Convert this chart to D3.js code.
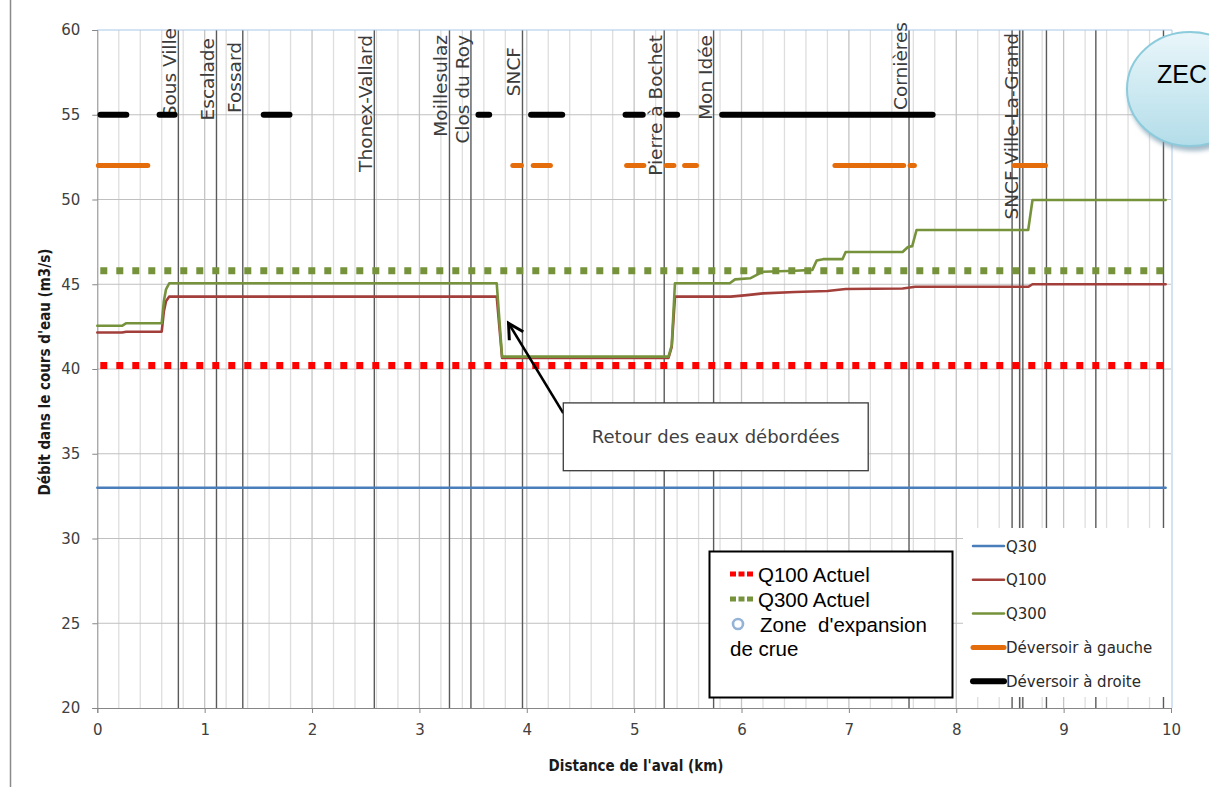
<!DOCTYPE html>
<html>
<head>
<meta charset="utf-8">
<script src="https://cdn.jsdelivr.net/npm/d3@7"></script>
<style>
  html, body { margin: 0; padding: 0; background: #fff; }
  svg { display: block; }
</style>
</head>
<body>
<svg id="chart" width="1209" height="787"></svg>
<script>
// ---- Data: distance from downstream end (km) and discharge (m3/s) ----
const q30Km  = [0, 9.95];
const q30Val = [33, 33];

const q100Km  = [0, 0.23, 0.27, 0.60, 0.62, 0.64, 0.67, 3.72, 3.77, 5.32, 5.35, 5.38, 5.90, 5.95, 6.05, 6.20, 6.50, 6.80, 6.97, 7.50, 7.62, 8.67, 8.71, 9.95];
const q100Val = [42.15, 42.15, 42.2, 42.2, 43.4, 44.0, 44.27, 44.27, 40.65, 40.65, 41.3, 44.27, 44.27, 44.3, 44.36, 44.46, 44.54, 44.6, 44.72, 44.75, 44.85, 44.85, 45.0, 45.0];

const q300Km  = [0, 0.23, 0.27, 0.60, 0.62, 0.64, 0.67, 3.72, 3.77, 5.32, 5.35, 5.38, 5.89, 5.94, 6.08, 6.20, 6.50, 6.66, 6.70, 6.76, 6.94, 6.97, 7.50, 7.55, 7.59, 7.63, 8.67, 8.71, 9.95];
const q300Val = [42.55, 42.55, 42.7, 42.7, 44.0, 44.7, 45.06, 45.06, 40.73, 40.73, 41.4, 45.06, 45.06, 45.29, 45.35, 45.74, 45.8, 45.85, 46.4, 46.48, 46.48, 46.9, 46.9, 47.2, 47.25, 48.2, 48.2, 49.97, 49.97];

// Current-state reference discharges
const q100ActuelVal = 40.2;
const q300ActuelVal = 45.8;
const actuelKm = [0, 9.95];

// Overflow weirs (start km, end km), drawn at a conventional level
const deversoirGaucheVal = 52;
const deversoirGaucheSeg = [[0.01, 0.47], [3.87, 3.95], [4.06, 4.22], [4.93, 5.09], [5.30, 5.37], [5.47, 5.58], [6.87, 7.51], [7.57, 7.61], [8.54, 8.83]];
const deversoirDroiteVal = 55;
const deversoirDroiteSeg = [[0.03, 0.27], [0.58, 0.72], [1.55, 1.79], [3.55, 3.65], [4.04, 4.33], [4.92, 5.08], [5.30, 5.40], [5.82, 7.78]];

// Structures along the river
const ouvrageNames = ["Sous Ville", "Escalade", "Fossard", "Thonex-Vallard", "Moillesulaz", "Clos du Roy", "SNCF", "Pierre à Bochet", "Mon Idée", "Cornières", "SNCF Ville-La-Grand"];
const ouvrageKm    = [0.755, 1.11, 1.355, 2.58, 3.28, 3.48, 3.96, 5.28, 5.74, 7.56, 8.59];
const autresOuvragesKm = [8.52, 8.62, 8.84, 9.30, 9.93];

// Axes
const xTicks = [0, 1, 2, 3, 4, 5, 6, 7, 8, 9, 10];
const yTicks = [20, 25, 30, 35, 40, 45, 50, 55, 60];
const minorGridKm = d3.range(1, 50).map(i => i * 0.2).filter(v => Math.abs(v - Math.round(v)) > 1e-6);

// Legend labels
const legendSeries = ["Q30", "Q100", "Q300", "Déversoir à gauche", "Déversoir à droite"];
const legendActuel = ["Q100 Actuel", "Q300 Actuel"];

// ---- Layout ----
const svg = d3.select("#chart");
const plot = { left: 97.3, right: 1171, top: 30, bottom: 708 };
const x = d3.scaleLinear().domain([0, 10]).range([plot.left, plot.right]);
const y = d3.scaleLinear().domain([20, 60]).range([plot.bottom, plot.top]);

const FONT = "'DejaVu Sans', sans-serif";
const FONT_TITLE = "'Liberation Sans Narrow', 'DejaVu Sans Condensed', 'Arial Narrow', sans-serif";

const colors = {
  q30: "#4a7ebb", q100: "#a23f3b", q300: "#76933c",
  gauche: "#e46c0a", droite: "#000000",
  q100a: "#ff0000", q300a: "#76933c"
};

// Outer frame (left edge)
svg.append("line").attr("x1", 10.5).attr("x2", 10.5).attr("y1", 0).attr("y2", 787)
  .attr("stroke", "#8a8a8a").attr("stroke-width", 1.5);

// Grid
const grid = svg.append("g");
grid.selectAll("line.minor").data(minorGridKm).join("line")
  .attr("x1", d => x(d)).attr("x2", d => x(d))
  .attr("y1", plot.top).attr("y2", plot.bottom)
  .attr("stroke", "#dedede").attr("stroke-width", 1.3);
grid.selectAll("line.major").data(xTicks.slice(1, -1)).join("line")
  .attr("x1", d => x(d)).attr("x2", d => x(d))
  .attr("y1", plot.top).attr("y2", plot.bottom)
  .attr("stroke", "#c4c4c4").attr("stroke-width", 1.3);
grid.selectAll("line.h").data(yTicks.slice(1, -1)).join("line")
  .attr("x1", plot.left).attr("x2", plot.right)
  .attr("y1", d => y(d)).attr("y2", d => y(d))
  .attr("stroke", "#c0c0c0").attr("stroke-width", 1);

// Structure lines
grid.selectAll("line.ouv").data(ouvrageKm.concat(autresOuvragesKm)).join("line")
  .attr("x1", d => x(d)).attr("x2", d => x(d))
  .attr("y1", plot.top).attr("y2", plot.bottom)
  .attr("stroke", "#5a5a5a").attr("stroke-width", 1.4);

// Plot border (top / right)
svg.append("path")
  .attr("d", `M${plot.left},${plot.top}H${plot.right + 1}V${plot.bottom}`)
  .attr("fill", "none").attr("stroke", "#a9c8e8").attr("stroke-width", 1);

// Axes
const xAxis = d3.axisBottom(x).tickValues(xTicks).tickSize(5).tickFormat(d3.format("d"));
const yAxis = d3.axisLeft(y).tickValues(yTicks).tickSize(5).tickFormat(d3.format("d"));
const gx = svg.append("g").attr("transform", `translate(0,${plot.bottom})`).call(xAxis);
const gy = svg.append("g").attr("transform", `translate(${plot.left},0)`).call(yAxis);
[gx, gy].forEach(g => {
  g.select(".domain").attr("stroke", "#868686");
  g.selectAll(".tick line").attr("stroke", "#868686");
  g.selectAll(".tick text").attr("font-family", FONT).attr("font-size", 15).attr("fill", "#404040");
});
gx.selectAll(".tick text").attr("dy", "1.25em");
gy.selectAll(".tick text").attr("x", -17);

// Axis titles
svg.append("text").attr("transform", "translate(50,372) rotate(-90)")
  .attr("text-anchor", "middle").attr("font-family", FONT_TITLE).attr("font-weight", "bold")
  .attr("font-size", 15).attr("fill", "#1a1a1a").text("Débit dans le cours d'eau (m3/s)");
svg.append("text").attr("x", 636).attr("y", 771)
  .attr("text-anchor", "middle").attr("font-family", FONT_TITLE).attr("font-weight", "bold")
  .attr("font-size", 15).attr("fill", "#1a1a1a").text("Distance de l'aval (km)");

// Structure labels
const labelTop = { "Sous Ville": 28, "Escalade": 38, "Fossard": 42, "Thonex-Vallard": 35, "Moillesulaz": 35,
  "Clos du Roy": 35, "SNCF": 47, "Pierre à Bochet": 35, "Mon Idée": 35, "Cornières": 22, "SNCF Ville-La-Grand": 33 };
svg.append("g").selectAll("text").data(ouvrageNames).join("text")
  .attr("transform", (d, i) => `translate(${x(ouvrageKm[i]) - 2},${labelTop[d]}) rotate(-90)`)
  .attr("text-anchor", "end")
  .attr("font-family", FONT).attr("font-size", 18.5).attr("fill", "#3c3c3c")
  .text(d => d);

// Series lines
const line = d3.line().x(d => x(d[0])).y(d => y(d[1]));
const pairs = (ks, vs) => ks.map((k, i) => [k, vs[i]]);

const series = svg.append("g").attr("fill", "none").attr("stroke-linejoin", "round").attr("stroke-linecap", "round");

// Weirs
series.selectAll("line.g").data(deversoirGaucheSeg).join("line")
  .attr("x1", d => x(d[0])).attr("x2", d => x(d[1]))
  .attr("y1", y(deversoirGaucheVal)).attr("y2", y(deversoirGaucheVal))
  .attr("stroke", colors.gauche).attr("stroke-width", 5);
series.selectAll("line.d").data(deversoirDroiteSeg).join("line")
  .attr("x1", d => x(d[0])).attr("x2", d => x(d[1]))
  .attr("y1", y(deversoirDroiteVal)).attr("y2", y(deversoirDroiteVal))
  .attr("stroke", colors.droite).attr("stroke-width", 6);

// Current-state dotted references
series.append("path").datum(pairs(actuelKm, [q100ActuelVal, q100ActuelVal])).attr("d", line)
  .attr("stroke", colors.q100a).attr("stroke-width", 7).attr("stroke-linecap", "butt").attr("stroke-dasharray", "7 9")
  .attr("transform", "translate(3,0)");
series.append("path").datum(pairs(actuelKm, [q300ActuelVal, q300ActuelVal])).attr("d", line)
  .attr("stroke", colors.q300a).attr("stroke-width", 7).attr("stroke-linecap", "butt").attr("stroke-dasharray", "7 9")
  .attr("transform", "translate(3,0)");

series.append("path").datum(pairs(q30Km, q30Val)).attr("d", line)
  .attr("stroke", colors.q30).attr("stroke-width", 2.5);
series.append("path").datum(pairs(q100Km, q100Val)).attr("d", line)
  .attr("stroke", colors.q100).attr("stroke-width", 2.6);
series.append("path").datum(pairs(q300Km, q300Val)).attr("d", line)
  .attr("stroke", colors.q300).attr("stroke-width", 2.6);

// Annotation: return of overflowing water
const ann = { tipKm: 3.83, tipQ: 42.7, startQ: 37.4, x0: 4.34, x1: 7.18, q0: 38.0, q1: 34.0 };
const annG = svg.append("g");
const ax0 = x(ann.x0), ax1 = x(ann.x1), ay0 = y(ann.q0), ay1 = y(ann.q1);
const tx = x(ann.tipKm), ty = y(ann.tipQ), sx = ax0, sy = y(ann.startQ);
annG.append("line").attr("x1", sx).attr("y1", sy).attr("x2", tx).attr("y2", ty)
  .attr("stroke", "#000").attr("stroke-width", 2.6);
const ang = Math.atan2(ty - sy, tx - sx);
const hl = 17, ha = 0.5;
annG.append("path")
  .attr("d", `M${tx - hl * Math.cos(ang - ha)},${ty - hl * Math.sin(ang - ha)}L${tx},${ty}L${tx - hl * Math.cos(ang + ha)},${ty - hl * Math.sin(ang + ha)}`)
  .attr("fill", "none").attr("stroke", "#000").attr("stroke-width", 3).attr("stroke-linejoin", "miter");
annG.append("rect").attr("x", ax0).attr("y", ay0).attr("width", ax1 - ax0).attr("height", ay1 - ay0)
  .attr("fill", "#fff").attr("stroke", "#3a3a3a").attr("stroke-width", 1.3);
annG.append("text").attr("x", (ax0 + ax1) / 2).attr("y", (ay0 + ay1) / 2 + 6)
  .attr("text-anchor", "middle").attr("font-family", FONT).attr("font-size", 18).attr("fill", "#404040")
  .text("Retour des eaux débordées");

// Series legend (inside plot, bottom right)
const lg = svg.append("g");
lg.append("rect").attr("x", 963).attr("y", 528).attr("width", plot.right - 963).attr("height", 169).attr("fill", "#fff");
const legendStyles = [
  { c: colors.q30, w: 2.5 }, { c: colors.q100, w: 2.5 }, { c: colors.q300, w: 2.5 },
  { c: colors.gauche, w: 5 }, { c: colors.droite, w: 6 }
];
const lgRow = lg.selectAll("g").data(legendSeries).join("g")
  .attr("transform", (d, i) => `translate(0,${546 + i * 33.8})`);
lgRow.append("line").attr("x1", 973).attr("x2", 1004).attr("y1", 0).attr("y2", 0)
  .attr("stroke", (d, i) => legendStyles[i].c).attr("stroke-width", (d, i) => legendStyles[i].w)
  .attr("stroke-linecap", "round");
lgRow.append("text").attr("x", 1006).attr("y", 5.5)
  .attr("font-family", FONT).attr("font-size", 15).attr("fill", "#2a2a2a").text(d => d);

// Boxed legend for current-state references
const bl = svg.append("g");
bl.append("rect").attr("x", 709.5).attr("y", 551.5).attr("width", 243).attr("height", 146)
  .attr("fill", "#fff").attr("stroke", "#000").attr("stroke-width", 2);
const blFont = "'Liberation Sans', Arial, sans-serif";
[colors.q100a, colors.q300a].forEach((c, i) => {
  const yy = 574 + i * 25;
  bl.append("line").attr("x1", 730).attr("x2", 753).attr("y1", yy).attr("y2", yy)
    .attr("stroke", c).attr("stroke-width", 5).attr("stroke-dasharray", "6 2.5");
  bl.append("text").attr("x", 758).attr("y", yy + 7.5)
    .attr("font-family", blFont).attr("font-size", 20.5).attr("fill", "#000").text(legendActuel[i]);
});
bl.append("circle").attr("cx", 738).attr("cy", 624).attr("r", 5)
  .attr("fill", "#fff").attr("stroke", "#95b3d7").attr("stroke-width", 2.6);
bl.append("text").attr("x", 760).attr("y", 631.5).attr("xml:space", "preserve").style("white-space", "pre")
  .attr("font-family", blFont).attr("font-size", 20.5).attr("fill", "#000").text("Zone  d'expansion");
bl.append("text").attr("x", 730).attr("y", 656)
  .attr("font-family", blFont).attr("font-size", 20.5).attr("fill", "#000").text("de crue");

// Flood expansion zone bubble
const defs = svg.append("defs");
const grad = defs.append("linearGradient").attr("id", "zecFill").attr("x1", 0).attr("y1", 0).attr("x2", 0).attr("y2", 1);
grad.append("stop").attr("offset", "0%").attr("stop-color", "#e9f6fa");
grad.append("stop").attr("offset", "100%").attr("stop-color", "#b3dde9");
defs.append("filter").attr("id", "zecShadow").attr("x", "-20%").attr("y", "-20%").attr("width", "140%").attr("height", "140%")
  .append("feGaussianBlur").attr("stdDeviation", 2);
svg.append("ellipse").attr("cx", 1192).attr("cy", 93).attr("rx", 64).attr("ry", 58)
  .attr("fill", "#7f9fb3").attr("opacity", 0.7).attr("filter", "url(#zecShadow)");
svg.append("ellipse").attr("cx", 1190).attr("cy", 89).attr("rx", 63).attr("ry", 57)
  .attr("fill", "url(#zecFill)").attr("stroke", "#8ccbdb").attr("stroke-width", 2);
svg.append("text").attr("x", 1157).attr("y", 83)
  .attr("font-family", blFont).attr("font-size", 25).attr("fill", "#000").text("ZEC");
</script>
</body>
</html>
